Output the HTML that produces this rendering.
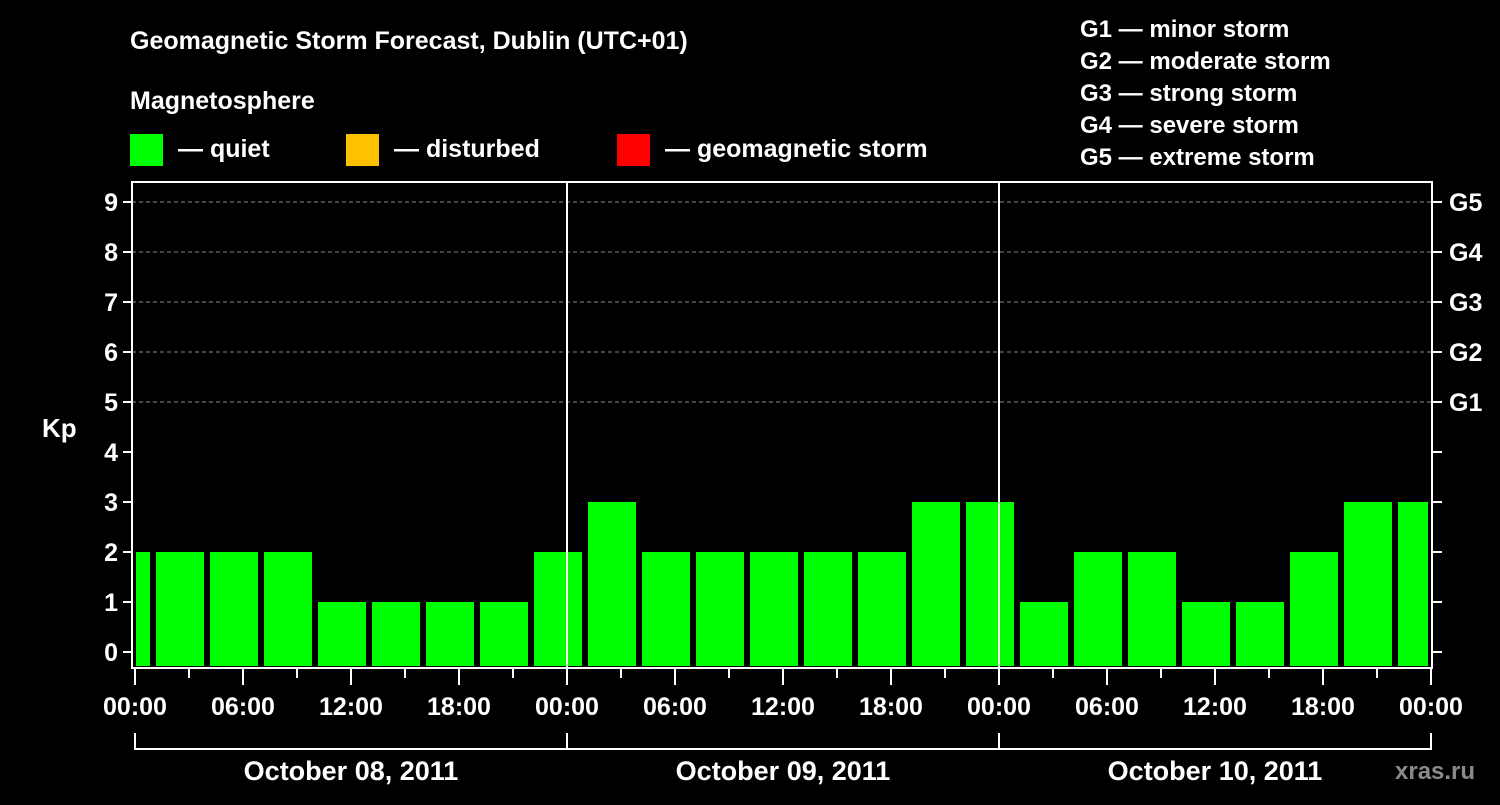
<!DOCTYPE html>
<html><head><meta charset="utf-8"><style>
body{margin:0;background:#000;width:1500px;height:800px;overflow:hidden;font-family:"Liberation Sans",sans-serif}
text{font-family:"Liberation Sans",sans-serif;font-weight:bold;fill:#fff}
</style></head><body>
<svg width="1500" height="800">
<text x="130" y="49" font-size="25">Geomagnetic Storm Forecast, Dublin (UTC+01)</text>
<text x="130" y="109" font-size="25">Magnetosphere</text>
<rect x="130" y="134" width="33" height="32" fill="#00ff00"/>
<text x="178" y="157" font-size="25">— quiet</text>
<rect x="346" y="134" width="33" height="32" fill="#ffc000"/>
<text x="394" y="157" font-size="25">— disturbed</text>
<rect x="617" y="134" width="33" height="32" fill="#ff0000"/>
<text x="665" y="157" font-size="25">— geomagnetic storm</text>
<g font-size="24">
<text x="1080" y="37">G1 — minor storm</text>
<text x="1080" y="69">G2 — moderate storm</text>
<text x="1080" y="101">G3 — strong storm</text>
<text x="1080" y="133">G4 — severe storm</text>
<text x="1080" y="165">G5 — extreme storm</text>
</g>
<text x="42" y="437" font-size="26">Kp</text>
<text x="1395" y="779" font-size="24" fill="#888" style="fill:#8a8a8a">xras.ru</text>
<g id="chart"></g>
</svg>
<script>
const times=[-0.5,2.5,5.5,8.5,11.5,14.5,17.5,20.5,23.5,26.5,29.5,32.5,35.5,38.5,41.5,44.5,47.5,50.5,53.5,56.5,59.5,62.5,65.5,68.5,71.5];
const kpValues=[2,2,2,2,1,1,1,1,2,3,2,2,2,2,2,3,3,1,2,2,1,1,2,3,3];
const yTicks=[0,1,2,3,4,5,6,7,8,9];
const gLabels=[[5,'G1'],[6,'G2'],[7,'G3'],[8,'G4'],[9,'G5']];
const dayLabels=['October 08, 2011','October 09, 2011','October 10, 2011'];
const hourLabels=['00:00','06:00','12:00','18:00'];
const X0=135,PXH=18,L=132,R=1432,T=182,B=668;
const xs=h=>X0+h*PXH, ys=k=>652-50*k;
const ns='http://www.w3.org/2000/svg',g=document.getElementById('chart');
function mk(t,a){const e=document.createElementNS(ns,t);for(const k in a)e.setAttribute(k,a[k]);g.appendChild(e);return e;}
yTicks.forEach(k=>{
 if(k>=5){const l=mk('line',{x1:L,x2:R,y1:ys(k),y2:ys(k),stroke:'#888','stroke-dasharray':'4,3','stroke-width':1});
 
 }
 const t1=mk('line',{x1:L-9,x2:L,y1:ys(k),y2:ys(k),stroke:'#fff','stroke-width':2});
 
 
 const t2=mk('line',{x1:R,x2:R+10,y1:ys(k),y2:ys(k),stroke:'#fff','stroke-width':2});
 
 
 const tx=mk('text',{x:L-14,y:ys(k)+9,'font-size':25,'text-anchor':'end'});tx.textContent=k;
 
 
});
gLabels.forEach(([k,s])=>{const tx=mk('text',{x:1449,y:ys(k)+9,'font-size':25});tx.textContent=s;
 
 });
times.forEach((h,i)=>{
 let x1=Math.max(xs(h)-24,136),x2=Math.min(xs(h)+24,1428);
 const k=kpValues[i],c=k>=5?'#ff0000':k>=4?'#ffc000':'#00ff00';
 const r=mk('rect',{x:x1,y:ys(k),width:x2-x1,height:666-ys(k),fill:c});
 
 
});
[1,2].forEach(d=>{const l=mk('line',{x1:xs(24*d),x2:xs(24*d),y1:T,y2:B,stroke:'#fff','stroke-width':2});
 
 });
const fr=mk('rect',{x:L,y:T,width:R-L,height:B-T,fill:'none',stroke:'#fff','stroke-width':2});


for(let h=0;h<=72;h+=3){const maj=h%6==0;
 const l=mk('line',{x1:xs(h),x2:xs(h),y1:B,y2:B+(maj?17:10),stroke:'#fff','stroke-width':2});
 
 
 if(maj){const tx=mk('text',{x:xs(h),y:715,'font-size':25,'text-anchor':'middle'});tx.textContent=hourLabels[(h/6)%4];
 
 }}
const br=mk('path',{d:`M${xs(0)},733V749H${xs(72)}V733M${xs(24)},733V749M${xs(48)},733V749`,stroke:'#fff','stroke-width':2,fill:'none'});


dayLabels.forEach((s,d)=>{const tx=mk('text',{x:xs(24*d+12),y:780,'font-size':27,'text-anchor':'middle'});tx.textContent=s;
 
 });
</script>
</body></html>
